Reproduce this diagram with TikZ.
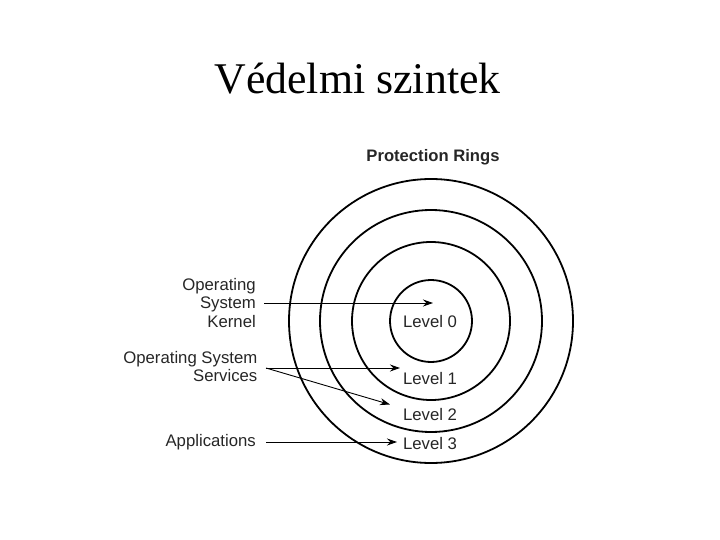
\documentclass[tikz,border=0pt]{standalone}
\usepackage{fontspec}
\setmainfont{Liberation Serif}
\newfontfamily\lsans{Liberation Sans}
\usetikzlibrary{arrows.meta}
\begin{document}
\begin{tikzpicture}[x=1bp,y=-1bp,
  ring/.style={draw=black,line width=1.8bp},
  lbl/.style={font=\lsans\fontsize{16.8}{19}\selectfont,inner sep=0pt,text=black!85},
  conn/.style={line width=0.9bp,-{Stealth[length=10bp,width=7bp]}}]
\useasboundingbox (0,0) rectangle (720,540);
\node[anchor=base,inner sep=0pt,font=\fontsize{44}{50}\selectfont] (title) at (357.5,94) {Védelmi szintek};
\node[lbl,font=\lsans\bfseries\fontsize{16.7}{19}\selectfont] (prot) at (433,157.5) {Protection Rings};
\coordinate (c) at (431,321);
\draw[ring] (c) circle[radius=142];
\draw[ring] (c) circle[radius=111];
\draw[ring] (c) circle[radius=79];
\draw[ring] (c) circle[radius=41];
\node[lbl] (l0) at (430,322) {Level 0};
\node[lbl] (l1) at (430,379) {Level 1};
\node[lbl] (l2) at (430,415) {Level 2};
\node[lbl] (l3) at (430,444) {Level 3};
\node[lbl,anchor=east,align=right] (kern) at (256,303) {Operating\\[0bp]System\\[0bp]Kernel};
\node[lbl,anchor=east,align=right] (serv) at (257.5,366.5) {Operating System\\Services};
\node[lbl,anchor=east] (app) at (256,442) {Applications};
\coordinate (k0) at (264,303);
\coordinate (k1) at (433,303);
\coordinate (s0) at (266,368);
\coordinate (s1) at (400,368);
\coordinate (s2) at (390,404.5);
\coordinate (a0) at (266,442);
\coordinate (a1) at (397,442);
\draw[conn] (k0) -- (k1);
\draw[conn] (s0) -- (s1);
\draw[conn] (s0) -- (s2);
\draw[conn] (a0) -- (a1);
\end{tikzpicture}
\end{document}
